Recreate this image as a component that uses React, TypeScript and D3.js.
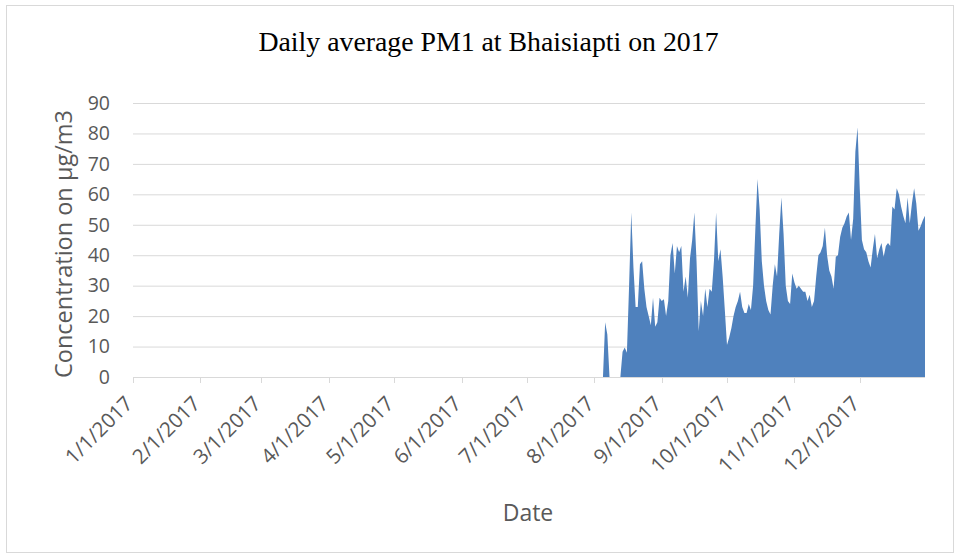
import React from "react";
import * as d3 from "d3";

const TITLE = "Daily average PM1 at Bhaisiapti on 2017";
const Y_TITLE = "Concentration on µg/m3";
const X_TITLE = "Date";
const Y_TICKS = [0, 10, 20, 30, 40, 50, 60, 70, 80, 90];
const X_DOMAIN = ["2017-01-01", "2017-12-31"];
const MONTH_TICKS = [
  "2017-01-01", "2017-02-01", "2017-03-01", "2017-04-01", "2017-05-01", "2017-06-01",
  "2017-07-01", "2017-08-01", "2017-09-01", "2017-10-01", "2017-11-01", "2017-12-01",
];
const SERIES_START = "2017-08-01";
// daily PM1 values from 2017-08-01 through 2017-12-31
const PM1 = [
  0, 0, 0, 0, 0, 18, 14, 0, 0, 0,
  0, 0, 0, 8.3, 9.7, 8, 30, 54, 36, 23,
  23, 37, 38, 29, 23, 20, 17, 26, 16.5, 18,
  26, 25, 25.5, 20, 25, 40, 44, 34, 43, 41,
  43, 28, 33, 26, 39, 45, 54, 38, 15, 25,
  20, 29, 23, 29, 28, 38, 54, 38, 42, 33,
  22, 10.5, 13, 16, 20, 23, 25, 28, 23, 21,
  21, 24, 22, 30, 48, 65, 55, 38, 30, 25,
  22, 20.5, 30, 37, 33, 47, 59, 47, 30, 25,
  24, 34, 31, 29, 30, 29, 28, 28, 25, 27,
  23, 25, 33, 40, 41, 43, 49, 40, 35, 33,
  29, 39.5, 40, 46, 49, 50.5, 52.7, 54, 45, 52,
  74, 82, 62, 45, 42, 41, 38, 36, 42, 47,
  39, 42, 44, 39.5, 43, 44, 43, 56, 55, 62,
  60, 56, 53, 50.5, 59, 50.5, 57, 62, 57, 48,
  49.5, 51.5, 53,
];

export default function App() {
  const W = 960;
  const H = 557;
  const parse = d3.utcParse("%Y-%m-%d");
  const x = d3
    .scaleUtc()
    .domain(X_DOMAIN.map((s) => parse(s) as Date))
    .range([133, 925]);
  const y = d3.scaleLinear().domain([0, 90]).range([377, 103]);
  const start = parse(SERIES_START) as Date;
  const pts = PM1.map((v, i) => ({ date: d3.utcDay.offset(start, i), v }));
  const area = d3
    .area<{ date: Date; v: number }>()
    .x((d) => x(d.date))
    .y0(y(0))
    .y1((d) => y(d.v));
  const fmt = d3.utcFormat("%-m/%-d/%Y");
  const [x0, x1] = x.range();
  const axisFont = "'Open Sans', 'DejaVu Sans', sans-serif";
  const grey = "#595959";

  return (
    <svg
      width={W}
      height={H}
      style={{ position: "absolute", left: 0, top: 0, background: "#fff" }}
    >
      <rect x={6.5} y={5.5} width={947} height={547} fill="#fff" stroke="#d9d9d9" />
      <text
        x={488.5}
        y={51}
        textAnchor="middle"
        fontFamily="'Liberation Serif', 'Times New Roman', serif"
        fontSize={27.8}
        fill="#000"
      >
        {TITLE}
      </text>
      {Y_TICKS.filter((t) => t !== 0).map((t) => (
        <line key={"g" + t} x1={x0} x2={x1} y1={y(t) + 0.5} y2={y(t) + 0.5} stroke="#d9d9d9" strokeWidth={1} />
      ))}
      <path d={area(pts) || ""} fill="#4F81BD" />
      <line x1={x0} x2={x1} y1={y(0) + 0.5} y2={y(0) + 0.5} stroke="#d9d9d9" strokeWidth={1} />
      {MONTH_TICKS.map((s) => {
        const d = parse(s) as Date;
        const px = Math.round(x(d)) + 0.5;
        return <line key={"t" + s} x1={px} x2={px} y1={y(0)} y2={y(0) + 6} stroke="#d9d9d9" />;
      })}
      {Y_TICKS.map((t) => (
        <text
          key={"y" + t}
          x={110}
          y={y(t)}
          dy="0.35em"
          textAnchor="end"
          fontFamily={axisFont}
          fontSize={19.5}
          fill={grey}
        >
          {t}
        </text>
      ))}
      {MONTH_TICKS.map((s) => {
        const d = parse(s) as Date;
        return (
          <text
            key={"l" + s}
            transform={`translate(${x(d) + 1},${405}) rotate(-45)`}
            textAnchor="end"
            fontFamily={axisFont}
            fontSize={20.5}
            fill={grey}
          >
            {fmt(d)}
          </text>
        );
      })}
      <text
        transform={`translate(72,${244}) rotate(-90)`}
        textAnchor="middle"
        fontFamily={axisFont}
        fontSize={23.5}
        fill={grey}
      >
        {Y_TITLE}
      </text>
      <text x={528} y={521} textAnchor="middle" fontFamily={axisFont} fontSize={23} fill={grey}>
        {X_TITLE}
      </text>
    </svg>
  );
}
